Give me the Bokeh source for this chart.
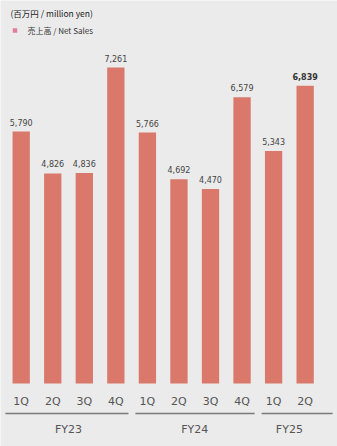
from bokeh.plotting import figure
from bokeh.models import Range1d, ColumnDataSource
from bokeh.core.properties import value
from bokeh.embed import file_html
from bokeh.resources import INLINE

# ---- data ----
fiscal_years = ["FY23", "FY24", "FY25"]
quarters = ["1Q", "2Q", "3Q", "4Q", "1Q", "2Q", "3Q", "4Q", "1Q", "2Q"]
quarter_fy = ["FY23", "FY23", "FY23", "FY23", "FY24", "FY24", "FY24", "FY24", "FY25", "FY25"]
net_sales = [5790, 4826, 4836, 7261, 5766, 4692, 4470, 6579, 5343, 6839]
unit_label = "(百万円 / million yen)"
series_label = "売上高 / Net Sales"

W, H = 337, 446
BG = "#ebebeb"
BAR = "#d9786b"
TXT = "#444444"

# pixel geometry of the plotting frame
x0_px, step_px = 20.7, 31.55
zero_px = 383.0
top_px = 67.0
upp = max(net_sales) / (zero_px - top_px)  # data units per pixel

x_start = -x0_px / step_px
x_end = (W - x0_px) / step_px
y_end = zero_px * upp
y_start = -(H - zero_px) * upp

def py(px):  # pixel from top -> data y
    return (zero_px - px) * upp

def pxx(px):
    return (px - x0_px) / step_px

p = figure(width=W, height=H, output_backend="svg", toolbar_location=None,
           x_range=Range1d(x_start, x_end), y_range=Range1d(y_start, y_end),
           min_border=0, min_border_left=0, min_border_right=0,
           min_border_top=0, min_border_bottom=0)
p.axis.visible = False
p.grid.visible = False
p.outline_line_color = None
p.background_fill_color = BG
p.border_fill_color = BG

idx = list(range(len(net_sales)))
labels = [f"{v:,}" for v in net_sales]
src = ColumnDataSource(dict(x=idx, y=net_sales, lab=labels, q=quarters))

p.vbar(x="x", top="y", bottom=0, width=17.3 / step_px, source=src,
       fill_color=BAR, line_color=None)

# value labels (last one bold)
src_norm = ColumnDataSource(dict(x=idx[:-1], y=net_sales[:-1], lab=labels[:-1]))
src_last = ColumnDataSource(dict(x=idx[-1:], y=net_sales[-1:], lab=labels[-1:]))
p.text(x="x", y="y", text="lab", source=src_norm, text_align="center",
       text_baseline="bottom", y_offset=-6, text_font=value("DejaVu Sans"),
       text_font_size="8px", text_color=TXT)
p.text(x="x", y="y", text="lab", source=src_last, text_align="center",
       text_baseline="bottom", y_offset=-6, text_font=value("DejaVu Sans"),
       text_font_size="8px", text_font_style="bold", text_color="#333333")

# quarter labels
p.text(x="x", y=0, text="q", source=src, text_align="center",
       text_baseline="middle", y_offset=18, text_font=value("DejaVu Sans"),
       text_font_size="11px", text_color="#555555")

# fiscal-year group lines and labels
for gi, fy in enumerate(fiscal_years):
    members = [i for i, f in enumerate(quarter_fy) if f == fy]
    first, last = members[0], members[-1]
    left = first - 0.5 if gi == 0 else first - 0.38
    right = last + 0.87 if gi == len(fiscal_years) - 1 else last + 0.4
    p.line([left, right], [py(413), py(413)], line_color="#7a7a7a", line_width=1.5)
    p.text(x=[sum(members) / len(members)], y=[py(429)], text=[fy],
           text_align="center", text_baseline="middle",
           text_font=value("DejaVu Sans"), text_font_size="11px",
           text_color="#555555")

# unit label and legend
p.text(x=[pxx(10)], y=[py(12)], text=[unit_label], text_align="left",
       text_baseline="middle", text_font=value("Noto Sans CJK JP"),
       text_font_size="8.5px", text_color="#222222")
p.scatter(x=[pxx(14.5)], y=[py(30)], marker="square", size=4.5,
          fill_color="#e07f97", line_color=None)
p.text(x=[pxx(27)], y=[py(30)], text=[series_label], text_align="left",
       text_baseline="middle", text_font=value("Noto Sans CJK JP"),
       text_font_size="8px", text_color="#333333")

open("out.html", "w").write(file_html(p, INLINE))
